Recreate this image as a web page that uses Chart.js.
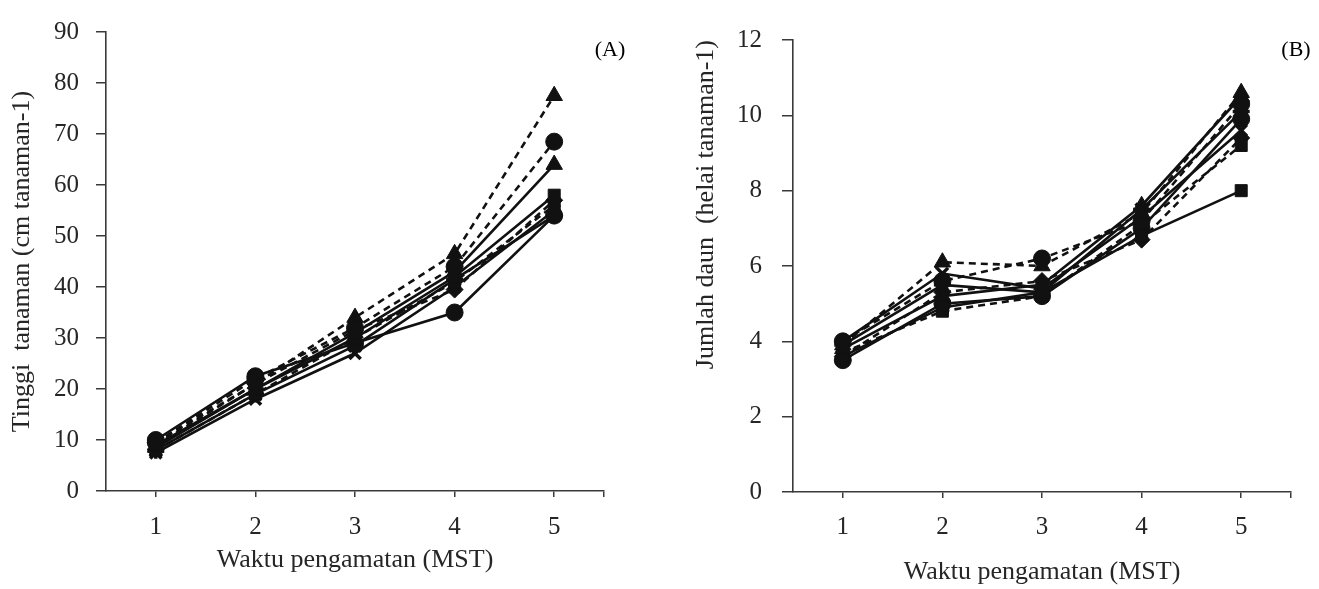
<!DOCTYPE html>
<html>
<head>
<meta charset="utf-8">
<script src="https://cdn.jsdelivr.net/npm/chart.js@4.4.1/dist/chart.umd.min.js"></script>
<style>
  html, body { margin: 0; padding: 0; background: #ffffff; }
  body { width: 1319px; height: 589px; position: relative; overflow: hidden; }
  #wrapA { position: absolute; left: 0; top: 0; width: 650px; height: 589px; }
  #wrapB { position: absolute; left: 660px; top: 0; width: 659px; height: 589px; }
</style>
</head>
<body>
<div id="wrapA"><canvas id="chartA" width="650" height="589"></canvas></div>
<div id="wrapB"><canvas id="chartB" width="659" height="589"></canvas></div>
<script>
// ---------- DATA ----------
const weeks = [1, 2, 3, 4, 5];

// Panel A: plant height (cm)
const heightT1 = [9.0, 21.0, 34.0, 46.5, 77.5];
const heightT2 = [9.5, 22.0, 32.0, 44.0, 68.5];
const heightT3 = [8.5, 20.0, 31.0, 43.0, 64.0];
const heightT4 = [9.0, 20.0, 30.0, 42.0, 58.0];
const heightT5 = [10.0, 22.5, 29.0, 35.0, 54.0];
const heightT6 = [8.0, 19.0, 30.0, 41.0, 56.0];
const heightT7 = [7.5, 18.0, 27.0, 40.0, 55.0];
const heightT8 = [9.5, 21.0, 31.5, 39.5, 57.0];
const heightT9 = [8.0, 19.0, 28.5, 41.5, 54.0];

// Panel B: number of leaves
const leafT1 = [3.9, 6.1, 6.0, 7.4, 10.6];
const leafT2 = [4.0, 5.6, 6.2, 7.2, 10.3];
const leafT3 = [3.8, 5.2, 5.5, 7.6, 10.5];
const leafT4 = [3.6, 4.9, 5.3, 6.8, 8.0];
const leafT5 = [3.5, 5.0, 5.2, 7.0, 9.9];
const leafT6 = [3.7, 4.8, 5.2, 7.1, 9.2];
const leafT7 = [4.0, 5.8, 5.4, 7.3, 9.6];
const leafT8 = [3.6, 5.3, 5.6, 6.7, 9.4];
const leafT9 = [3.9, 5.5, 5.3, 7.5, 10.1];

const yTicksA = [0, 10, 20, 30, 40, 50, 60, 70, 80, 90];
const yTicksB = [0, 2, 4, 6, 8, 10, 12];
const xTickLabels = ['1', '2', '3', '4', '5'];

const panelLabelA = '(A)';
const panelLabelB = '(B)';
const xTitle = 'Waktu pengamatan (MST)';
const yTitleA = 'Tinggi  tanaman (cm tanaman-1)';
const yTitleB = 'Jumlah daun  (helai tanaman-1)';

// ---------- STYLE ----------
const INK = '#111111';
const AXIS = '#3a3a3a';
const TEXT = '#262626';
const FONT = "'Liberation Serif', 'Times New Roman', serif";
const DASH = [7, 5];

const seriesStyle = [
  { pointStyle: 'triangle', dash: DASH, r: 9.5 },
  { pointStyle: 'circle',   dash: DASH, r: 8.5 },
  { pointStyle: 'triangle', dash: [],   r: 9.5 },
  { pointStyle: 'rect',     dash: [],   r: 8.5 },
  { pointStyle: 'circle',   dash: [],   r: 8.5 },
  { pointStyle: 'rect',     dash: DASH, r: 8.5 },
  { pointStyle: 'crossRot', dash: [],   r: 8 },
  { pointStyle: 'rectRot',  dash: DASH, r: 8.5 },
  { pointStyle: 'star',     dash: [],   r: 8.5 }
];

function makeDatasets(arrays) {
  return arrays.map((vals, i) => {
    const s = seriesStyle[i % seriesStyle.length];
    return {
      label: 'P' + (i + 1),
      data: weeks.map((w, k) => ({ x: w, y: vals[k] })),
      borderColor: INK,
      backgroundColor: INK,
      borderWidth: 2.6,
      borderDash: s.dash,
      pointStyle: s.pointStyle,
      pointRadius: s.r,
      pointBorderWidth: s.pointStyle === 'crossRot' || s.pointStyle === 'star' ? 3.5 : 1,
      pointBorderColor: INK,
      pointBackgroundColor: INK,
      tension: 0,
      fill: false
    };
  });
}

const panelLabelPlugin = {
  id: 'panelLabel',
  afterDraw(chart, args, opts) {
    const ctx = chart.ctx;
    ctx.save();
    ctx.fillStyle = '#000';
    ctx.font = '22px ' + FONT;
    ctx.textAlign = 'center';
    ctx.textBaseline = 'middle';
    ctx.fillText(opts.text, opts.x, opts.y);
    ctx.restore();
  }
};

function makeConfig(p) {
  return {
    type: 'line',
    data: { datasets: makeDatasets(p.series) },
    plugins: [panelLabelPlugin],
    options: {
      responsive: false,
      devicePixelRatio: 1,
      animation: false,
      events: [],
      layout: { padding: { left: 0, right: p.padRight, top: p.padTop, bottom: 0 } },
      plugins: {
        legend: { display: false },
        tooltip: { enabled: false },
        panelLabel: { text: p.label, x: p.labelX, y: p.labelY }
      },
      scales: {
        x: {
          type: 'linear',
          min: 0.5,
          max: 5.5,
          afterFit(scale) { scale.height = p.xHeight; },
          afterBuildTicks(scale) {
            scale.ticks = weeks.map(v => ({ value: v })).concat([{ value: 5.5 }]);
          },
          ticks: {
            callback(v) {
              const i = weeks.indexOf(v);
              return i >= 0 ? xTickLabels[i] : '';
            },
            color: TEXT,
            font: { family: FONT, size: 25 },
            padding: p.xTickPad,
            maxRotation: 0,
            autoSkip: false
          },
          grid: { display: true, drawOnChartArea: false, drawTicks: true, tickLength: 6, color: AXIS, lineWidth: 1.5 },
          border: { display: true, color: AXIS, width: 1.6 },
          title: {
            display: true,
            text: xTitle,
            color: TEXT,
            font: { family: FONT, size: 26 },
            padding: { top: 0, bottom: p.xTitlePad }
          }
        },
        y: {
          type: 'linear',
          min: p.yTicks[0],
          max: p.yTicks[p.yTicks.length - 1],
          afterFit(scale) { scale.width = p.yWidth; },
          afterBuildTicks(scale) {
            scale.ticks = p.yTicks.map(v => ({ value: v }));
          },
          ticks: {
            color: TEXT,
            font: { family: FONT, size: 25 },
            padding: p.yTickPad,
            autoSkip: false
          },
          grid: { display: true, drawOnChartArea: false, drawTicks: true, tickLength: p.yTickLen, color: AXIS, lineWidth: 1.5 },
          border: { display: true, color: AXIS, width: 1.6 },
          title: {
            display: true,
            text: p.yTitle,
            align: p.yTitleAlign,
            color: TEXT,
            font: { family: FONT, size: 26 },
            padding: { top: p.yTitlePad, bottom: 0 }
          }
        }
      }
    }
  };
}

new Chart(document.getElementById('chartA'), makeConfig({
  series: [heightT1, heightT2, heightT3, heightT4, heightT5, heightT6, heightT7, heightT8, heightT9],
  yTicks: yTicksA,
  yTitle: yTitleA,
  yTitleAlign: 'center',
  yTitlePad: 7,
  yWidth: 106,
  yTickLen: 10,
  yTickPad: 17,
  xHeight: 98,
  xTickPad: 15,
  xTitlePad: 13,
  padRight: 46,
  padTop: 25,
  label: panelLabelA,
  labelX: 610,
  labelY: 50
}));

new Chart(document.getElementById('chartB'), makeConfig({
  series: [leafT1, leafT2, leafT3, leafT4, leafT5, leafT6, leafT7, leafT8, leafT9],
  yTicks: yTicksB,
  yTitle: yTitleB,
  yTitleAlign: 'end',
  yTitlePad: 31,
  yWidth: 133,
  yTickLen: 11,
  yTickPad: 20,
  xHeight: 97,
  xTickPad: 14,
  xTitlePad: 1,
  padRight: 28,
  padTop: 40,
  label: panelLabelB,
  labelX: 636,
  labelY: 50
}));
</script>
</body>
</html>
